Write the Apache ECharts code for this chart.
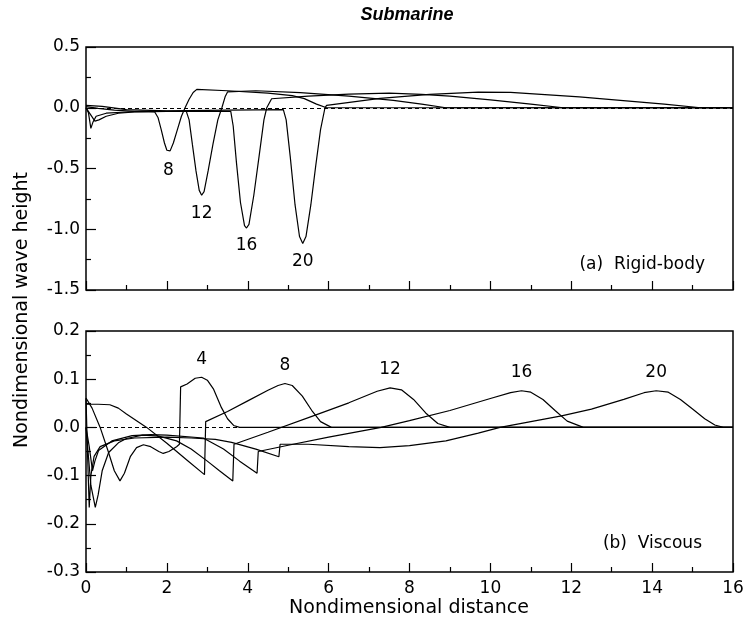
<!DOCTYPE html>
<html>
<head>
<meta charset="utf-8">
<script src="https://cdn.jsdelivr.net/npm/echarts@6/dist/echarts.min.js"></script>
<style>
  html, body { margin: 0; padding: 0; background: #fff; }
  #chart { width: 752px; height: 629px; }
</style>
</head>
<body>
<div id="chart"></div>
<script>
// curve labels (time)
const rigidNames = ['8', '12', '16', '20'];
const viscousNames = ['4', '8', '12', '16', '20'];

// (a) rigid-body: [distance, wave height]
const rigid8 = [
  [0, 0], [0.06, -0.04], [0.12, -0.17], [0.17, -0.12], [0.25, -0.07], [0.5, -0.045], [1.0, -0.035], [1.4, -0.03], [1.70, -0.035],
  [1.78, -0.08], [1.86, -0.18], [1.94, -0.29], [2.00, -0.35], [2.04, -0.365], [2.08, -0.355], [2.16, -0.29], [2.26, -0.18],
  [2.36, -0.07], [2.45, 0.0], [2.55, 0.07], [2.65, 0.125], [2.74, 0.151],
  [3.5, 0.14], [4.5, 0.12], [5.1, 0.1], [5.4, 0.075], [5.7, 0.03], [5.95, 0], [16, 0]
];
const rigid12 = [
  [0, 0], [0.1, -0.05], [0.22, -0.11], [0.32, -0.1], [0.5, -0.07], [0.8, -0.045], [1.2, -0.035], [2.0, -0.03], [2.48, -0.03],
  [2.55, -0.1], [2.63, -0.3], [2.72, -0.52], [2.80, -0.68], [2.86, -0.72], [2.92, -0.69], [3.02, -0.52], [3.14, -0.3],
  [3.26, -0.1], [3.36, 0.0], [3.44, 0.09], [3.50, 0.13],
  [4.2, 0.14], [5.3, 0.125], [6.5, 0.095], [7.6, 0.06], [8.3, 0.03], [8.9, 0], [16, 0]
];
const rigid16 = [
  [0, 0.01], [0.3, -0.005], [0.7, -0.02], [1.2, -0.03], [2.5, -0.03], [3.58, -0.03],
  [3.64, -0.15], [3.72, -0.45], [3.82, -0.78], [3.92, -0.97], [3.97, -0.99], [4.03, -0.96], [4.15, -0.72], [4.28, -0.4],
  [4.40, -0.1], [4.47, 0.0], [4.59, 0.074],
  [5.5, 0.095], [6.5, 0.112], [7.5, 0.12], [8.3, 0.11], [9.0, 0.095], [10.0, 0.065], [11.0, 0.03], [11.8, 0], [16, 0]
];
const rigid20 = [
  [0, 0.02], [0.4, 0.012], [1.0, -0.015], [2, -0.025], [3.5, -0.02], [4.88, -0.015],
  [4.95, -0.1], [5.05, -0.4], [5.17, -0.8], [5.28, -1.06], [5.36, -1.117], [5.44, -1.06], [5.56, -0.8], [5.68, -0.48],
  [5.80, -0.18], [5.91, 0.0], [5.95, 0.02],
  [7.27, 0.077], [8.5, 0.11], [9.7, 0.128], [10.5, 0.127], [12.2, 0.09], [14.3, 0.03], [15.2, 0], [16, 0]
];

// (b) viscous
const viscous4 = [
  [0, 0.061], [0.15, 0.04], [0.35, 0.0], [0.55, -0.05], [0.7, -0.09], [0.84, -0.111], [0.95, -0.095], [1.1, -0.06],
  [1.25, -0.042], [1.42, -0.036], [1.6, -0.04], [1.8, -0.05], [1.91, -0.054], [2.05, -0.05], [2.24, -0.04], [2.31, -0.035],
  [2.34, 0.084], [2.5, 0.09], [2.7, 0.102], [2.86, 0.104], [3.0, 0.098], [3.15, 0.08], [3.35, 0.041], [3.5, 0.018],
  [3.65, 0.004], [3.8, 0], [16, 0]
];
const viscous8 = [
  [0, 0.048], [0.3, 0.048], [0.59, 0.047], [0.8, 0.04], [1.0, 0.028], [1.5, 0.0], [2.0, -0.033], [2.5, -0.068], [2.93, -0.098],
  [2.96, 0.012], [3.5, 0.033], [4.0, 0.055], [4.5, 0.077], [4.75, 0.087], [4.92, 0.091], [5.1, 0.087], [5.35, 0.065],
  [5.6, 0.033], [5.8, 0.012], [6.07, 0], [16, 0]
];
const viscous12 = [
  [0, 0], [0.05, -0.05], [0.12, -0.12], [0.23, -0.166], [0.3, -0.14], [0.4, -0.09], [0.56, -0.052], [0.8, -0.032], [1.0, -0.023],
  [1.4, -0.016], [1.8, -0.018], [2.24, -0.028], [2.6, -0.045], [3.0, -0.07], [3.3, -0.09], [3.63, -0.111],
  [3.66, -0.035], [4.5, -0.01], [5.62, 0.024], [6.5, 0.051], [7.2, 0.075], [7.52, 0.082], [7.8, 0.078], [8.1, 0.058],
  [8.4, 0.03], [8.7, 0.008], [9.0, 0], [16, 0]
];
const viscous16 = [
  [0, 0], [0.08, -0.04], [0.16, -0.09], [0.22, -0.07], [0.31, -0.048], [0.64, -0.028], [1.14, -0.017], [1.6, -0.015],
  [2.0, -0.016], [2.9, -0.022], [3.4, -0.045], [3.8, -0.07], [4.23, -0.095],
  [4.26, -0.05], [5.0, -0.037], [6.0, -0.02], [7.3, 0.0], [8.0, 0.014], [9.0, 0.035], [10.0, 0.06], [10.5, 0.072],
  [10.77, 0.076], [11.0, 0.073], [11.3, 0.058], [11.6, 0.035], [11.9, 0.013], [12.3, 0], [16, 0]
];
const viscous20 = [
  [0, 0.06], [0.04, -0.06], [0.08, -0.166], [0.12, -0.1], [0.2, -0.06], [0.35, -0.04], [0.7, -0.028], [1.2, -0.022],
  [2.0, -0.02], [2.6, -0.022], [3.2, -0.025], [3.6, -0.031], [4.2, -0.045], [4.77, -0.061],
  [4.80, -0.035], [5.5, -0.035], [6.5, -0.04], [7.27, -0.042], [8.0, -0.038], [8.9, -0.028], [9.7, -0.012], [10.24, 0.0],
  [11.0, 0.012], [11.76, 0.024], [12.5, 0.038], [13.3, 0.058], [13.8, 0.072], [14.1, 0.076], [14.4, 0.073], [14.7, 0.058],
  [15.0, 0.038], [15.3, 0.018], [15.55, 0.005], [15.76, 0], [16, 0]
];

const rigidData = [rigid8, rigid12, rigid16, rigid20];
const viscousData = [viscous4, viscous8, viscous12, viscous16, viscous20];

const FONT = 'DejaVu Sans';

const chart = echarts.init(document.getElementById('chart'));

function yFmt(v) {
  return (Math.abs(v) < 1e-9 ? 0 : v).toFixed(1);
}

function makeX(gridIndex, showLabel) {
  return {
    type: 'value', gridIndex: gridIndex, min: 0, max: 16, interval: 2,
    axisLine: { show: false, onZero: false },
    axisTick: { show: true, inside: true, length: 9, lineStyle: { color: '#000', width: 1.2 } },
    minorTick: { show: true, splitNumber: 2, length: 5, lineStyle: { color: '#000', width: 1.2 } },
    splitLine: { show: false },
    axisLabel: { show: showLabel, color: '#000', fontSize: 17, fontFamily: FONT, margin: 8 }
  };
}

function makeY(gridIndex, min, max, interval) {
  return {
    type: 'value', gridIndex: gridIndex, min: min, max: max, interval: interval,
    axisLine: { show: false, onZero: false },
    axisTick: { show: true, inside: true, length: 10, lineStyle: { color: '#000', width: 1.2 } },
    minorTick: { show: true, splitNumber: 2, length: 5, lineStyle: { color: '#000', width: 1.2 } },
    splitLine: { show: false },
    axisLabel: { color: '#000', fontSize: 17, fontFamily: FONT, margin: 6, formatter: yFmt }
  };
}

function makeSeries(data, name, idx, first, kind) {
  const s = {
    type: 'line', name: name, data: data,
    xAxisIndex: idx, yAxisIndex: idx,
    showSymbol: false, symbol: 'none',
    lineStyle: { color: '#000', width: 1.2 },
    z: 3,
    markPoint: {
      symbol: 'circle', symbolSize: 1,
      itemStyle: { color: 'rgba(0,0,0,0)' },
      label: {
        show: true, formatter: name, color: '#000', fontSize: 17, fontFamily: FONT,
        position: kind === 'min' ? 'bottom' : 'top', distance: 9
      },
      data: [{ type: kind }]
    }
  };
  if (first) {
    s.markLine = {
      silent: true, symbol: ['none', 'none'],
      label: { show: false },
      lineStyle: { color: '#000', width: 1, type: [4, 3] },
      data: [{ yAxis: 0 }],
      z: 2
    };
  }
  return s;
}

const series = [];
rigidData.forEach((d, i) => series.push(makeSeries(d, rigidNames[i], 0, i === 0, 'min')));
viscousData.forEach((d, i) => series.push(makeSeries(d, viscousNames[i], 1, i === 0, 'max')));

chart.setOption({
  animation: false,
  backgroundColor: '#fff',
  grid: [
    { left: 86, top: 47, width: 647, height: 243, show: true, borderColor: '#000', borderWidth: 1.5, backgroundColor: 'transparent' },
    { left: 86, top: 331, width: 647, height: 241, show: true, borderColor: '#000', borderWidth: 1.5, backgroundColor: 'transparent' }
  ],
  xAxis: [makeX(0, false), makeX(1, true)],
  yAxis: [makeY(0, -1.5, 0.5, 0.5), makeY(1, -0.3, 0.2, 0.1)],
  series: series,
  graphic: [
    { type: 'text', x: 407, y: 15, style: { text: 'Submarine', font: 'italic bold 18px "Liberation Sans"', fill: '#000', align: 'center', verticalAlign: 'middle' } },
    { type: 'text', x: 22, y: 310, rotation: Math.PI / 2, style: { text: 'Nondimensional wave height', font: '19px "' + FONT + '"', fill: '#000', align: 'center', verticalAlign: 'middle' } },
    { type: 'text', x: 409, y: 608, style: { text: 'Nondimensional distance', font: '19px "' + FONT + '"', fill: '#000', align: 'center', verticalAlign: 'middle' } },
    { type: 'text', x: 705, y: 265, style: { text: '(a)  Rigid-body', font: '17px "' + FONT + '"', fill: '#000', align: 'right', verticalAlign: 'middle' } },
    { type: 'text', x: 702, y: 544, style: { text: '(b)  Viscous', font: '17px "' + FONT + '"', fill: '#000', align: 'right', verticalAlign: 'middle' } }
  ]
});
</script>
</body>
</html>
